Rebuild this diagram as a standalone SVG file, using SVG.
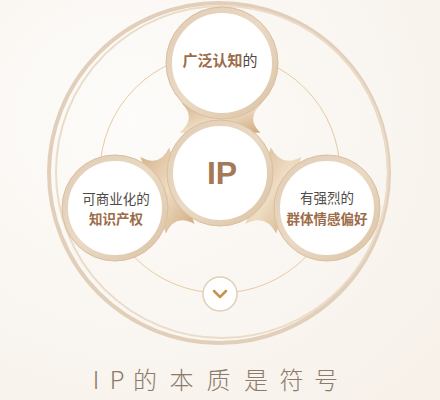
<svg xmlns="http://www.w3.org/2000/svg" width="440" height="400" viewBox="0 0 440 400">
  <defs>
    <radialGradient id="bg" cx="0.3" cy="0.3" r="0.9">
      <stop offset="0" stop-color="#fdfcfa"/>
      <stop offset="1" stop-color="#f7f1ea"/>
    </radialGradient>
    <linearGradient id="ring" x1="0" y1="0" x2="1" y2="1">
      <stop offset="0" stop-color="#e2cdb6"/>
      <stop offset="0.5" stop-color="#ead9c4"/>
      <stop offset="1" stop-color="#dcc4a6"/>
    </linearGradient>
    <linearGradient id="wedge" x1="0" y1="0" x2="1" y2="1">
      <stop offset="0" stop-color="#d4b187"/>
      <stop offset="0.5" stop-color="#eedcc3"/>
      <stop offset="1" stop-color="#cfa87a"/>
    </linearGradient>
    <style>
      .node-ring { fill: #ffffff; stroke: url(#ring); stroke-width: 6; }
      .node-edge { fill: none; stroke: #d8bf9f; stroke-width: 1; }
      .wedge { fill: url(#wedge); }
      .gray { font-family: "Noto Sans CJK SC", "Noto Sans", sans-serif; fill: #4f4a46; font-size: 13.5px; text-anchor: middle; }
      .brown { font-family: "Noto Sans CJK SC", "Noto Sans", sans-serif; fill: #9c6b48; font-size: 13.5px; font-weight: bold; text-anchor: middle; }
    </style>
  </defs>

  <rect width="440" height="400" fill="url(#bg)"/>

  <!-- outer tilted ring -->
  <circle cx="219" cy="173" r="170" fill="none" stroke="#e2cfb9" stroke-width="4"/>
  <circle cx="222" cy="172" r="166" fill="none" stroke="#eadcc9" stroke-width="2"/>

  <g id="connectors">
    <circle cx="220" cy="173" r="120" fill="none" stroke="#e6cba4" stroke-width="1"/>
    <path class="wedge" d="M181.7,103.3 Q197,118 179.7,132.7 L260.3,132.7 Q245,118 262.3,103.3 Z"/>
    <path class="wedge" d="M194.5,223.9 Q175.1,213.3 165.9,233.5 L140.5,157.1 Q159.9,167.7 169.1,147.5 Z"/>
    <path class="wedge" d="M245.5,223.9 Q265.9,213.3 276.1,233.5 L301.5,157.1 Q281.1,167.7 270.9,147.5 Z"/>
  </g>

  <g id="node-top">
    <circle class="node-ring" cx="222" cy="63" r="53"/>
    <circle class="node-edge" cx="222" cy="63" r="56"/>
    <text x="220" y="66" font-family="'Noto Sans CJK SC', 'Noto Sans', sans-serif" font-size="15" text-anchor="middle"><tspan fill="#9c6b48" font-weight="bold">广泛认知</tspan><tspan fill="#4f4a46">的</tspan></text>
  </g>

  <g id="node-left">
    <circle class="node-ring" cx="115" cy="208" r="50"/>
    <circle class="node-edge" cx="115" cy="208" r="53"/>
    <text class="gray" x="116" y="204">可商业化的</text>
    <text class="brown" x="116" y="224">知识产权</text>
  </g>

  <g id="node-right">
    <circle class="node-ring" cx="327" cy="208" r="50"/>
    <circle class="node-edge" cx="327" cy="208" r="53"/>
    <text class="gray" x="327" y="203">有强烈的</text>
    <text class="brown" x="327" y="224">群体情感偏好</text>
  </g>

  <g id="node-center">
    <circle class="node-ring" cx="220" cy="173" r="50"/>
    <circle class="node-edge" cx="220" cy="173" r="53"/>
    <text x="222" y="184" font-family="'Liberation Sans', 'Noto Sans', sans-serif" font-size="32" font-weight="bold" fill="#a57856" text-anchor="middle">IP</text>
  </g>

  <g id="node-chevron">
    <circle cx="220" cy="294" r="17" fill="#ffffff" stroke="#e2cfb8" stroke-width="1.5"/>
    <polyline points="214,291 220,297 226,291" fill="none" stroke="#c8934c" stroke-width="2.5" stroke-linecap="round" stroke-linejoin="round"/>
  </g>

  <text y="389" font-family="'Noto Sans CJK SC', 'Noto Sans', sans-serif" font-size="24" font-weight="300" fill="#8c7b6b" text-anchor="middle" x="96 117 145 181.5 218.5 256 291.5 326">IP的本质是符号</text>
</svg>
